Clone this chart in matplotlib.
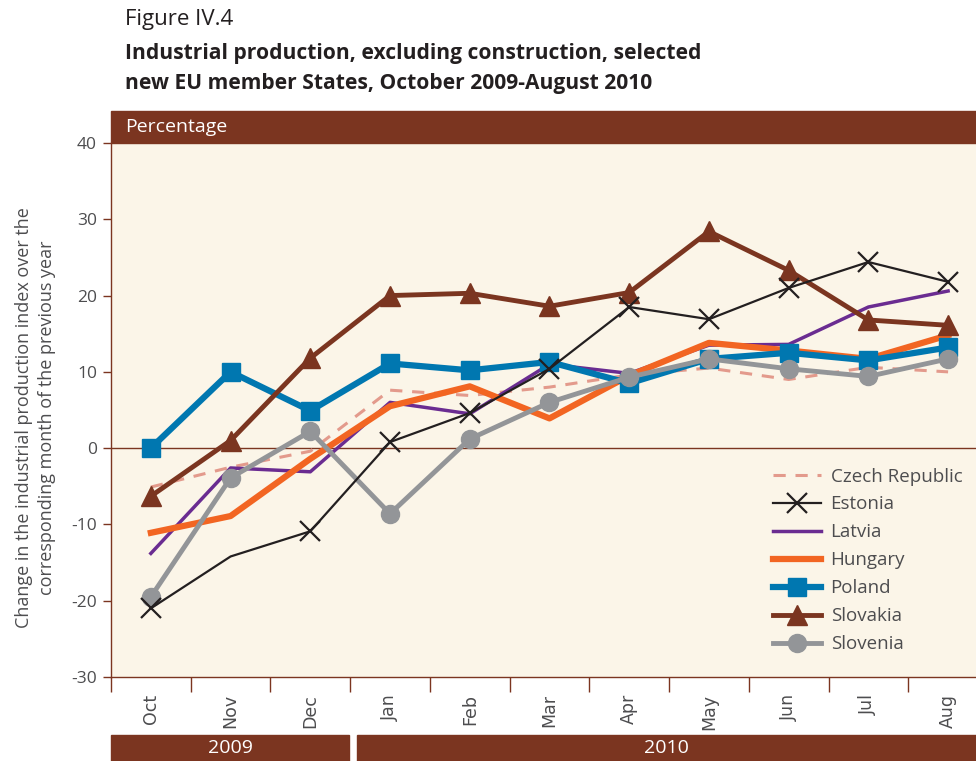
import matplotlib
matplotlib.use("Agg")
import matplotlib.pyplot as plt
from matplotlib.patches import Rectangle
from matplotlib.lines import Line2D

months = ["Oct", "Nov", "Dec", "Jan", "Feb", "Mar", "Apr", "May", "Jun", "Jul", "Aug"]
years = ["2009", "2010"]
yticks = [40, 30, 20, 10, 0, -10, -20, -30]

czech = [-5.1, -2.5, -0.4, 7.6, 6.9, 8.0, 9.6, 10.5, 9.0, 10.6, 10.0]
estonia = [-21.0, -14.2, -10.9, 0.8, 4.6, 10.4, 18.5, 16.9, 21.0, 24.4, 21.8]
latvia = [-13.8, -2.6, -3.1, 6.0, 4.5, 11.0, 9.8, 13.5, 13.6, 18.5, 20.6]
hungary = [-11.1, -8.9, -1.4, 5.5, 8.1, 3.9, 9.5, 13.8, 12.8, 11.7, 14.8]
poland = [0.0, 10.0, 4.9, 11.1, 10.2, 11.3, 8.5, 11.7, 12.5, 11.5, 13.2]
slovakia = [-6.3, 1.0, 11.8, 20.0, 20.3, 18.6, 20.4, 28.4, 23.3, 16.8, 16.1]
slovenia = [-19.5, -3.9, 2.2, -8.6, 1.2, 6.0, 9.3, 11.7, 10.4, 9.4, 11.7]

BROWN = "#7B3520"
CREAM = "#FBF5E8"
TXT = "#4D4D4F"
FONT = ["Open Sans", "DejaVu Sans"]
plt.rcParams["font.family"] = FONT

fig = plt.figure(figsize=(9.76, 7.61), dpi=100)
W, H = 976, 761
L, R, T, B = 111, 976, 143, 677
ax = fig.add_axes([L / W, 1 - B / H, (R - L) / W, (B - T) / H])
ax.set_facecolor(CREAM)

x = list(range(len(months)))
ax.axhline(0, color=BROWN, lw=1.0, zorder=1)

ax.plot(x, czech, color="#E39A8C", lw=2.2, ls=(0, (4, 3.2)), zorder=2, label="Czech Republic")
ax.plot(x, latvia, color="#6A2C91", lw=2.5, zorder=3, label="Latvia")
ax.plot(x, hungary, color="#F26522", lw=4.5, zorder=4, label="Hungary")
ax.plot(x, poland, color="#0077B0", lw=4.5, marker="s", ms=13, zorder=5, label="Poland")
ax.plot(x, slovakia, color=BROWN, lw=3.5, marker="^", ms=15, zorder=6, label="Slovakia")
ax.plot(x, slovenia, color="#939598", lw=3.5, marker="o", ms=13, zorder=7, label="Slovenia")
ax.plot(x, estonia, color="#231F20", lw=1.6, marker="x", ms=14, mew=1.6,
        markevery=[0, 2, 3, 4, 5, 6, 7, 8, 9, 10], zorder=8, label="Estonia")

ax.set_xlim(-0.45, 10.35)
ax.set_ylim(-30, 40)
ax.set_yticks(yticks)
ax.set_yticklabels([str(v) for v in yticks])
ax.set_xticks([i + 0.5 for i in range(-1, len(months) - 1)])
ax.set_xticklabels([])
ax.tick_params(axis="x", length=11, width=1, color=BROWN, direction="out")
ax.tick_params(axis="y", length=6, width=1, color=BROWN, direction="out", labelsize=12.5,
               labelcolor=TXT, pad=4)
for s in ["top", "right"]:
    ax.spines[s].set_visible(False)
for s in ["left", "bottom"]:
    ax.spines[s].set_color(BROWN)
    ax.spines[s].set_linewidth(1.0)

for i, m in enumerate(months):
    ax.text(i, -32.2, m, rotation=90, ha="center", va="top", fontsize=12.5,
            color=TXT, family=["DejaVu Sans"], clip_on=False)

ax.set_ylabel("Change in the industrial production index over the\ncorresponding month of the previous year",
              fontsize=13, color=TXT, labelpad=12, linespacing=1.3)
ax.yaxis.set_label_coords(-0.064, 0.485)

# legend
handles = [
    Line2D([], [], color="#E39A8C", lw=2.2, ls=(0, (4, 3.2))),
    Line2D([], [], color="#231F20", lw=1.6, marker="x", ms=14, mew=1.6),
    Line2D([], [], color="#6A2C91", lw=2.5),
    Line2D([], [], color="#F26522", lw=4.5),
    Line2D([], [], color="#0077B0", lw=4.5, marker="s", ms=13),
    Line2D([], [], color=BROWN, lw=3.5, marker="^", ms=15),
    Line2D([], [], color="#939598", lw=3.5, marker="o", ms=13),
]
labels = ["Czech Republic", "Estonia", "Latvia", "Hungary", "Poland", "Slovakia", "Slovenia"]
leg = ax.legend(handles, labels, loc="upper left",
                bbox_to_anchor=((765 - L) / (R - L), 1 - (460 - T) / (B - T)),
                frameon=False, fontsize=13.5, handlelength=2.6, labelspacing=0.53, handletextpad=0.5,
                labelcolor=TXT, borderaxespad=0)

# header band
fig.patches.append(Rectangle((L / W, 1 - T / H), (R - L) / W, 32 / H, transform=fig.transFigure,
                             color=BROWN, zorder=0))
fig.text(125 / W, 1 - 127 / H, "Percentage", color="white", fontsize=14, va="center", ha="left")

# year bands
fig.patches.append(Rectangle((L / W, 0), (349 - L) / W, 26 / H, transform=fig.transFigure, color=BROWN))
fig.patches.append(Rectangle((357 / W, 0), (R - 357) / W, 26 / H, transform=fig.transFigure, color=BROWN))
fig.text((L + 349) / 2 / W, 13 / H, years[0], color="white", fontsize=14, ha="center", va="center")
fig.text((357 + R) / 2 / W, 13 / H, years[1], color="white", fontsize=14, ha="center", va="center")

# titles
fig.text(125 / W, 1 - 20 / H, "Figure IV.4", fontsize=16, color="#231F20", va="center", ha="left")
fig.text(125 / W, 1 - 53 / H, "Industrial production, excluding construction, selected",
         fontsize=15.1, fontweight="bold", color="#231F20", va="center", ha="left")
fig.text(125 / W, 1 - 84 / H, "new EU member States, October 2009-August 2010",
         fontsize=15.1, fontweight="bold", color="#231F20", va="center", ha="left")

fig.savefig("out.png", dpi=100, facecolor="white")
